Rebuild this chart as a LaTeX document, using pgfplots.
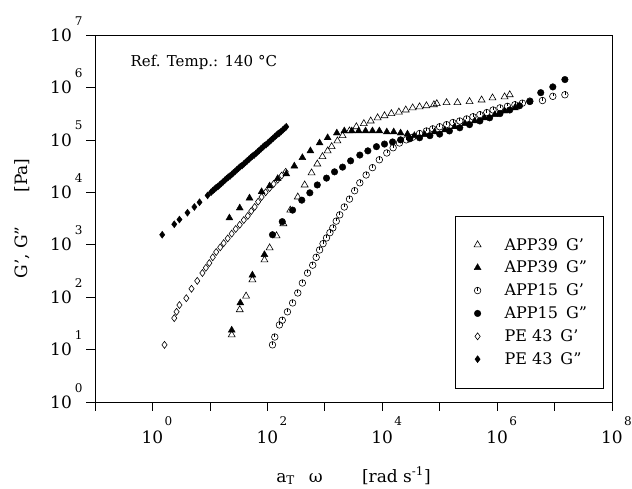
\documentclass[border=0pt]{standalone}
\usepackage{fontspec}
\setmainfont{DejaVu Serif}
\usepackage{pgfplots}
\pgfplotsset{compat=1.18}
\pgfdeclareplotmark{cirtick}{%
  \pgfpathcircle{\pgfpointorigin}{\pgfplotmarksize}\pgfusepathqstroke
  \pgfpathmoveto{\pgfqpoint{0pt}{\pgfplotmarksize}}\pgfpathlineto{\pgfpointorigin}\pgfusepathqstroke}
\newcommand{\xtl}[1]{\makebox[0pt]{10}\makebox[0pt][l]{\hspace{0.72em}\raisebox{1.05em}[0pt][0pt]{\fontsize{12}{12}\selectfont #1}}}
\newcommand{\ytl}[1]{10\kern3pt\raisebox{0.95em}[0pt][0pt]{\fontsize{12}{12}\selectfont #1}}
\begin{document}
\begin{tikzpicture}
\useasboundingbox (-95pt,-87pt) rectangle (537pt,402pt);
\begin{axis}[
  scale only axis, width=517pt, height=367pt,
  xmode=log, ymode=log, log basis x=10, log basis y=10,
  xmin=0.1, xmax=1e8, ymin=1, ymax=1e7,
  xtick={0.1,1,10,100,1000,10000,100000,1000000,10000000,100000000},
  xticklabels={,\xtl{0},,\xtl{2},,\xtl{4},,\xtl{6},,\xtl{8}},
  ytick={1,10,100,1000,10000,100000,1000000,10000000},
  yticklabels={\ytl{0},\ytl{1},\ytl{2},\ytl{3},\ytl{4},\ytl{5},\ytl{6},\ytl{7}},
  tick pos=left, tick align=outside,
  major tick length=9pt, minor tick length=5pt,
  tick style={black, line width=0.7pt},
  axis line style={line width=0.9pt},
  xticklabel style={font=\fontsize{17}{17}\selectfont, yshift=-16pt},
  yticklabel style={font=\fontsize{17}{17}\selectfont},
  xlabel={a\textsubscript{T}\enspace\ ω\qquad\ [rad s\textsuperscript{-1}]},
  ylabel={G', G''\qquad [Pa]},
  xlabel style={font=\fontsize{17}{19}\selectfont, at={(axis description cs:0.5,-0.2016)}, anchor=center},
  ylabel style={font=\fontsize{17}{19}\selectfont, at={(axis description cs:-0.1412,0.5)}, anchor=center},
  legend style={at={(rel axis cs:0.983,0.507)}, anchor=north east, font=\fontsize{16}{18}\selectfont, row sep=5.5pt, inner xsep=14pt, inner ysep=20pt, draw=black},
  legend cell align=left,
  legend image code/.code={\path[draw=none] (0pt,-5pt) rectangle (33pt,5pt); \draw[#1] plot coordinates {(8pt,0pt)};},
]
% APP39 G'
\addplot[only marks, mark=triangle, mark size=4pt, black, line width=0.6pt] coordinates {
(23.99,19.05) (33.11,57.54) (42.66,104.7) (54.95,213.8) (89.13,512.9) (109.6,871) (144.5,1479) (190.5,2512) (251.2,4571) (338.8,8128) (446.7,13800) (588.8,23440) (741.3,34670) (912.0,47860) (1122,61660) (1318,74130) (1660,95500) (2042,120200) (2692,147900) (3548,177800) (4786,204200) (6310,229100) (8318,263000) (10960,288400) (14450,316200) (19500,338800) (25700,371500) (33880,407400) (44670,426600) (58880,446700) (79430,467700) (89130,489800) (131800,512900) (204200,512900) (331100,537000) (537000,575400) (831800,631000) (1349000,660700) (1660000,724400)
};
\addlegendentry{APP39\enspace G'}
% APP39 G''
\addplot[only marks, mark=triangle*, mark size=4pt, black] coordinates {
(23.99,23.44) (33.88,77.62) (54.95,263.0) (89.13,645.7)
(21.88,3236) (33.11,5012) (48.98,7762) (79.43,10230) (109.6,13180) (151.4,18200) (213.8,22390) (295.1,31620) (407.4,45710) (562.3,61660) (812.8,87100) (1122,109600) (1622,134900) (2188,147900) (2951,147900) (3890,147900) (5129,147900) (6761,147900) (8913,147900) (12020,141300) (15850,141300) (20890,134900) (27540,128800) (36310,120200) (54950,125900) (81280,141300) (123000,154900) (182000,177800) (275400,204200) (407400,229100) (602600,263000) (912000,302000) (1349000,354800) (2042000,407400)
};
\addlegendentry{APP39\enspace G''}
% APP15 G'
\addplot[only marks, mark=cirtick, mark size=3.3pt, black, line width=0.6pt] coordinates {
(123.0,12.30) (134.9,17.38) (162.2,29.51) (182.0,36.31) (223.9,52.48) (275.4,77.62) (338.8,120.2) (407.4,186.2) (501.2,288.4) (616.6,407.4) (707.9,575.4) (812.8,794.3) (933.3,1047) (1072,1349) (1230,1698) (1380,2089) (1585,2818) (1820,3715) (2188,5248) (2692,7413) (3311,10720) (4074,15140) (5248,21380) (6761,29510) (8913,41690) (12020,56230) (15490,70790) (19950,87100) (26300,100000) (33880,112200) (44670,131800) (58880,147900) (75860,162200) (100000,177800) (131800,195000) (169800,213800) (223900,229100) (295100,251200) (380200,275400) (501200,302000) (660700,331100) (851100,371500) (1122000,407400) (1514000,436500) (2042000,467700) (2754000,501200) (3715000,549500) (6166000,562300) (9333000,676100) (15140000,724400)
};
\addlegendentry{APP15\enspace G'}
% APP15 G''
\addplot[only marks, mark=*, mark size=3.3pt, black] coordinates {
(123,1549) (182,2754) (275.4,4571) (398.1,7079) (549.5,9772) (741.3,13800) (1072,18620) (1479,24550) (2042,30200) (2818,39810) (4074,51290) (5623,61660) (7943,74130) (10960,83180) (15140,91200) (20890,100000) (30200,104700) (44670,109600) (67610,120200) (100000,128800) (147900,147900) (223900,169800) (331100,195000) (501200,229100) (741300,263000) (1122000,316200) (1660000,371500) (2455000,446700) (3715000,537000) (5754000,794300) (9333000,1023000) (15140000,1413000)
};
\addlegendentry{APP15\enspace G''}
% PE 43 G'
\addplot[only marks, mark=diamond, mark size=3.5pt, black, line width=0.6pt] coordinates {
(1.622,12.30) (2.399,39.81) (2.630,52.48) (2.951,70.79) (3.890,95.50) (4.786,144.5) (6.026,204.2) (7.413,288.4) (8.511,363.1) (9.772,446.7) (11.22,575.4) (12.88,724.4) (15.14,891.3) (17.38,1072) (20.42,1318) (23.99,1622) (28.18,1995) (33.11,2399) (38.90,2951) (45.71,3548) (52.48,4365) (60.26,5248) (69.18,6607) (79.43,8128) (93.33,10000) (109.6,12020) (128.8,14450) (151.4,17380) (177.8,20890) (208.9,24550)
};
\addlegendentry{PE 43\enspace G'}
% PE 43 G''
\addplot[only marks, mark=diamond*, mark size=3.5pt, black] coordinates {
(1.479,1549) (2.399,2455) (2.951,3020) (4.074,4074) (5.370,5248) (6.607,6457) (9.120,8710) (10.47,10000) (11.22,10720) (12.02,11480) (12.88,12300) (13.80,12880) (14.79,13800) (15.85,14790) (16.98,15850) (18.20,16980) (19.50,18200) (20.89,19500) (22.39,20420) (23.99,21880) (25.70,23440) (27.54,25120) (29.51,26920) (31.62,28840) (33.88,30900) (36.31,32360) (38.90,34670) (41.69,37150) (44.67,39810) (47.86,42660) (51.29,45710) (54.95,48980) (58.88,51290) (63.10,54950) (67.61,58880) (72.44,63100) (77.62,67610) (83.18,72440) (89.13,77620) (95.50,81280) (102.3,87100) (109.6,93330) (117.5,100000) (125.9,107200) (134.9,114800) (144.5,123000) (154.9,131800) (162.2,134900) (173.8,144500) (186.2,154900) (199.5,166000) (213.8,177800)
};
\addlegendentry{PE 43\enspace G''}
\node[anchor=west, font=\fontsize{15}{17}\selectfont] at (rel axis cs:0.062,0.926) {Ref. Temp.: 140 °C};
\end{axis}
\end{tikzpicture}
\end{document}
